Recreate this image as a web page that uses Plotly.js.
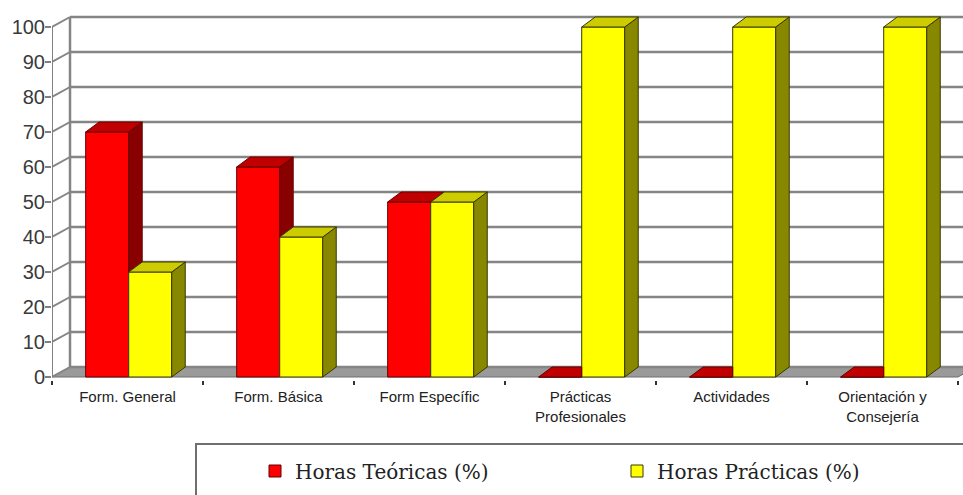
<!DOCTYPE html>
<html>
<head>
<meta charset="utf-8">
<script src="https://cdn.plot.ly/plotly-3.0.1.min.js"></script>
<style>
  html, body { margin: 0; padding: 0; background: #ffffff; }
  #chart { width: 963px; height: 495px; }
</style>
</head>
<body>
<div id="chart"></div>
<script>
// ---- data ----
const categories = ['Form. General', 'Form. Básica', 'Form Específic', 'Prácticas<br>Profesionales', 'Actividades', 'Orientación y<br>Consejería'];
const horasTeoricas = [70, 60, 50, 0, 0, 0];
const horasPracticas = [30, 40, 50, 100, 100, 100];
const yTicks = [0, 10, 20, 30, 40, 50, 60, 70, 80, 90, 100];
const seriesNames = ['Horas Teóricas (%)', 'Horas Prácticas (%)'];

// ---- geometry of the figure ----
const FIG_W = 963, FIG_H = 495;
const M = { l: 52, r: 0, t: 5, b: 115 };
const plotW = FIG_W - M.l - M.r;
const plotH = FIG_H - M.t - M.b;
const CAT_PX = 151;          // pixels per category on the front plane
const VAL_PX = 3.5;          // pixels per percentage point
const X_RANGE = [-0.5, -0.5 + plotW / CAT_PX];
const Y_RANGE = [-3 / VAL_PX, -3 / VAL_PX + plotH / VAL_PX];
const pxX = plotW / (X_RANGE[1] - X_RANGE[0]);
const pxY = plotH / (Y_RANGE[1] - Y_RANGE[0]);

// oblique depth (walls and columns), converted from pixels to axis units
const wallDX = 18 / pxX, wallDY = 10 / pxY;
const barDX = 13.5 / pxX, barDY = 10 / pxY;
const BAR_W = 0.285, SHIFT = 0.008;

const idx = categories.map((_, i) => i);
const xFirst = -0.5, xLast = categories.length - 0.5;

// ---- colours ----
const RED = { front: '#ff0000', top: '#c00000', side: '#880000', edge: '#660000' };
const YEL = { front: '#ffff00', top: '#cccc00', side: '#888800', edge: '#383800' };
const GRID = '#858585';

// collect polygons into one trace, separated by gaps
function polyTrace(polys, fill, edge) {
  const xs = [], ys = [];
  polys.forEach(p => {
    p.forEach(pt => { xs.push(pt[0]); ys.push(pt[1]); });
    xs.push(p[0][0]); ys.push(p[0][1]);
    xs.push(null); ys.push(null);
  });
  return {
    type: 'scatter', mode: 'lines', x: xs, y: ys,
    fill: 'toself', fillcolor: fill,
    line: { color: edge, width: 1 },
    hoverinfo: 'skip', showlegend: false, connectgaps: false
  };
}

const redSide = [], redTop = [], yelSide = [], yelTop = [];
idx.forEach(i => {
  const vr = horasTeoricas[i], vy = horasPracticas[i];
  const xl = i - BAR_W + SHIFT, xm = i + SHIFT, xr = i + BAR_W + SHIFT;
  // red column: side face only where it rises above the yellow neighbour
  if (vr > vy) {
    redSide.push([[xm, vy], [xm + barDX, vy + barDY], [xm + barDX, vr + barDY], [xm, vr]]);
  }
  if (vr >= vy) {
    redTop.push([[xl, vr], [xm, vr], [xm + barDX, vr + barDY], [xl + barDX, vr + barDY]]);
  } else {
    redTop.push([[xl, vr], [xm, vr], [xm, vr + barDY], [xl + barDX, vr + barDY]]);
  }
  // yellow column
  yelSide.push([[xr, 0], [xr + barDX, barDY], [xr + barDX, vy + barDY], [xr, vy]]);
  yelTop.push([[xm, vy], [xr, vy], [xr + barDX, vy + barDY], [xm + barDX, vy + barDY]]);
});

const traces = [
  {
    type: 'bar', name: seriesNames[0], x: idx, y: horasTeoricas,
    width: BAR_W, offset: -BAR_W + SHIFT, legendwidth: 317,
    marker: { color: RED.front, line: { color: RED.edge, width: 1 } },
    hoverinfo: 'y'
  },
  {
    type: 'bar', name: seriesNames[1], x: idx, y: horasPracticas,
    width: BAR_W, offset: SHIFT,
    marker: { color: YEL.front, line: { color: YEL.edge, width: 1 } },
    hoverinfo: 'y'
  },
  polyTrace(redSide, RED.side, RED.edge),
  polyTrace(redTop, RED.top, RED.edge),
  polyTrace(yelSide, YEL.side, YEL.edge),
  polyTrace(yelTop, YEL.top, YEL.edge)
];

// ---- walls, floor and gridlines ----
const shapes = [];
// floor
shapes.push({
  type: 'path', xref: 'x', yref: 'y', layer: 'below',
  path: `M ${xFirst},0 L ${xLast},0 L ${xLast + wallDX},${wallDY} L ${xFirst + wallDX},${wallDY} Z`,
  fillcolor: '#9a9a9a', line: { color: '#6e6e6e', width: 1 }
});
yTicks.forEach(t => {
  // back wall gridline
  shapes.push({
    type: 'line', xref: 'x', yref: 'y', layer: 'below',
    x0: xFirst + wallDX, y0: t + wallDY, x1: xLast + wallDX, y1: t + wallDY,
    line: { color: GRID, width: 2.5 }
  });
  // side wall gridline
  shapes.push({
    type: 'line', xref: 'x', yref: 'y', layer: 'below',
    x0: xFirst, y0: t, x1: xFirst + wallDX, y1: t + wallDY,
    line: { color: GRID, width: 2 }
  });
});
// back corner edge of the side wall
shapes.push({
  type: 'line', xref: 'x', yref: 'y', layer: 'below',
  x0: xFirst + wallDX, y0: wallDY, x1: xFirst + wallDX, y1: yTicks[yTicks.length - 1] + wallDY,
  line: { color: GRID, width: 2.5 }
});
// front vertical axis line
shapes.push({
  type: 'line', xref: 'x', yref: 'y', layer: 'above',
  x0: xFirst, y0: 0, x1: xFirst, y1: yTicks[yTicks.length - 1],
  line: { color: '#808080', width: 2 }
});
// legend frame
const plotBottom = M.t + plotH;
shapes.push({
  type: 'rect', xref: 'paper', yref: 'paper', layer: 'above',
  x0: (196 - M.l) / plotW, x1: 1.1,
  y0: (plotBottom - 444) / plotH, y1: (plotBottom - 520) / plotH,
  line: { color: '#6f6f6f', width: 2 }, fillcolor: 'rgba(0,0,0,0)'
});

const layout = {
  width: FIG_W, height: FIG_H,
  margin: M,
  paper_bgcolor: '#ffffff', plot_bgcolor: '#ffffff',
  barmode: 'overlay',
  showlegend: true,
  xaxis: {
    type: 'linear', range: X_RANGE, fixedrange: true, automargin: false,
    tickmode: 'array', tickvals: idx, ticktext: categories,
    ticks: '', showgrid: false, zeroline: false, showline: false,
    ticklabelstandoff: 6,
    tickfont: { family: 'Liberation Sans, Arial, sans-serif', size: 15, color: '#222222' },
    minor: {
      tickmode: 'array',
      tickvals: idx.map(i => i - 0.5).concat([xLast]),
      ticks: 'outside', ticklen: 4, tickwidth: 1.5, tickcolor: '#333333', showgrid: false
    }
  },
  yaxis: {
    range: Y_RANGE, fixedrange: true, automargin: false,
    tickmode: 'array', tickvals: yTicks,
    ticks: 'outside', ticklen: 6, tickwidth: 2, tickcolor: '#808080',
    ticklabelstandoff: -4,
    showgrid: false, zeroline: false, showline: false,
    tickfont: { family: 'Liberation Sans, Arial, sans-serif', size: 20, color: '#3a3a3a' }
  },
  legend: {
    orientation: 'h', xref: 'container', yref: 'container',
    xanchor: 'left', yanchor: 'middle',
    x: 255 / FIG_W, y: (FIG_H - 471) / FIG_H,
    bgcolor: 'rgba(0,0,0,0)', borderwidth: 0,
    font: { family: 'DejaVu Serif, Liberation Serif, serif', size: 20, color: '#222222' }
  },
  shapes: shapes
};

Plotly.newPlot('chart', traces, layout, { displayModeBar: false, staticPlot: true });
</script>
</body>
</html>
